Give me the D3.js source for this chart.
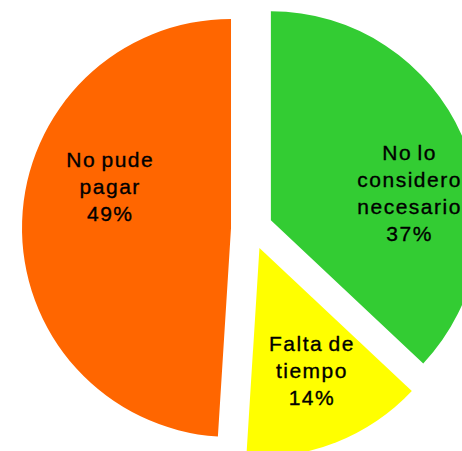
<!DOCTYPE html>
<html>
<head>
<meta charset="utf-8">
<script src="https://cdn.jsdelivr.net/npm/d3@7"></script>
<style>
  html, body { margin: 0; padding: 0; background: #fff; overflow: hidden; }
  text { font-family: "Liberation Sans", Arial, sans-serif; font-size: 21px; fill: #000; stroke: #000; stroke-width: 0.35px; letter-spacing: 1.5px; word-spacing: -2px; }
</style>
</head>
<body>
<script>
var categories = ["No lo considero necesario", "Falta de tiempo", "No pude pagar"];
var values = [37, 14, 49];
var labelLines = [["No lo", "considero", "necesario"], ["Falta de", "tiempo"], ["No pude", "pagar"]];
var colors = ["#33CC33", "#FFFF00", "#FF6600"];

var width = 462, height = 451,
    cx = 251.8, cy = 228.6,
    radius = 209,
    explode = 20.8,
    lineHeight = 27;

// hand nudges so labels sit where the original put them
var nudge = {
  "No lo considero necesario": [14, 27],
  "Falta de tiempo": [2.5, -4],
  "No pude pagar": [15, -37]
};

var svg = d3.select("body").append("svg")
    .attr("width", width)
    .attr("height", height);

var pie = d3.pie().sort(null).value(function(d) { return d.value; });
var arc = d3.arc().innerRadius(0).outerRadius(radius);
var labelArc = d3.arc().innerRadius(radius * 0.65).outerRadius(radius * 0.65);

var data = categories.map(function(c, i) {
  return {name: c, value: values[i], lines: labelLines[i], color: colors[i]};
});

var slices = svg.append("g")
    .attr("transform", "translate(" + cx + "," + cy + ")")
  .selectAll("g")
    .data(pie(data))
  .enter().append("g")
    .attr("transform", function(d) {
      var a = (d.startAngle + d.endAngle) / 2;
      return "translate(" + (Math.sin(a) * explode) + "," + (-Math.cos(a) * explode) + ")";
    });

slices.append("path")
    .attr("d", arc)
    .attr("fill", function(d) { return d.data.color; });

slices.append("text")
    .attr("text-anchor", "middle")
    .each(function(d) {
      var p = labelArc.centroid(d),
          n = nudge[d.data.name],
          lines = d.data.lines.concat([d.data.value + "%"]),
          x = p[0] + n[0],
          y0 = p[1] + n[1] - (lines.length - 1) / 2 * lineHeight + 7.5;
      var t = d3.select(this);
      lines.forEach(function(l, i) {
        t.append("tspan")
          .attr("x", x)
          .attr("y", y0 + i * lineHeight)
          .text(l);
      });
    });
</script>
</body>
</html>
